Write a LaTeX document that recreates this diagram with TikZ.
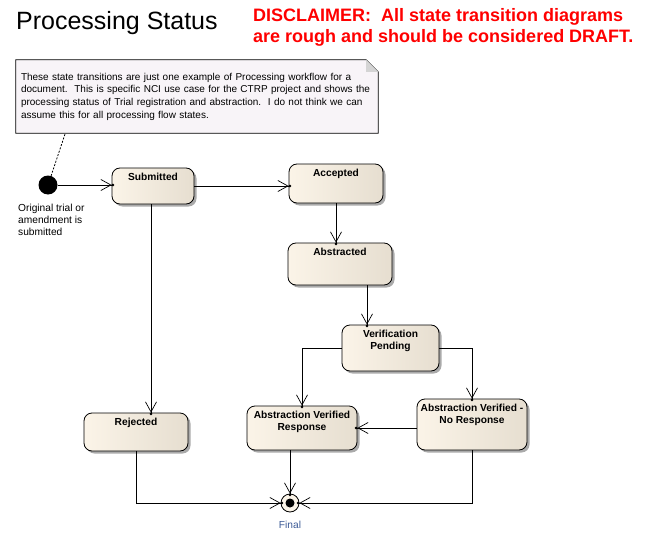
\documentclass[tikz,border=0pt]{standalone}
\usepackage{fontspec}
\setmainfont{Liberation Sans}
\usetikzlibrary{arrows.meta,shadows,backgrounds}

\definecolor{statel}{RGB}{251,244,232}
\definecolor{stater}{RGB}{230,222,208}
\definecolor{shadowgray}{RGB}{170,170,170}
\definecolor{notefill}{RGB}{248,244,248}
\definecolor{foldgray}{RGB}{212,212,212}
\definecolor{finalblue}{RGB}{60,90,150}
\definecolor{draftred}{RGB}{255,0,0}

\begin{document}
\begin{tikzpicture}[x=1pt, y=-1pt]
        \tikzstyle{statebox}=[draw, line width=0.8pt, rounded corners=8pt, left color=statel, right color=stater,
                              drop shadow={shadow xshift=2.5pt, shadow yshift=-2.5pt, fill=shadowgray, opacity=1}]
        \tikzstyle{statetext}=[font=\bfseries\fontsize{10.2}{12.5}\selectfont, align=center, anchor=north, inner sep=0pt, yshift=-5pt]
        \tikzstyle{smalltext}=[font=\fontsize{10.2}{12}\selectfont, align=left, inner sep=0pt]
        \tikzstyle{trans}=[line width=0.8pt, -{Straight Barb[length=10pt,width=11pt,line width=0.7pt] Circle[length=2.5pt,sep=-2.5pt]}]

        \useasboundingbox (0,0) rectangle (665,546);

        % headings
        \node (title) [anchor=base west, inner sep=0pt, font=\fontsize{25}{29}\selectfont] at (16,29.3) {Processing Status};
        \node (disclaimer) [anchor=base west, inner sep=0pt, align=left, text=draftred, font=\bfseries\fontsize{18}{21}\selectfont] at (253,42.7)
              {DISCLAIMER:\ \ All state transition diagrams\\are rough and should be considered DRAFT.};

        % note
        \node (note) [minimum width=362pt, minimum height=75pt, text width=352pt, inner xsep=5pt, align=left,
                      font=\fontsize{10}{12.7}\selectfont] at (197,96.5)
              {These state transitions are just one example of Processing workflow for a\\
               document.\ \ This is specific NCI use case for the CTRP project and shows the\\
               processing status of Trial registration and abstraction.\ \ I do not think we can\\
               assume this for all processing flow states.};
        \begin{pgfonlayer}{background}
            \draw[fill=notefill, line width=0.8pt] ([yshift=1pt]note.south west) -- ([yshift=-1pt]note.north west) -- ([xshift=-12pt,yshift=-1pt]note.north east)
                  -- ([yshift=-13pt]note.north east) -- ([yshift=1pt]note.south east) -- cycle;
            \fill[foldgray] ([xshift=-12pt,yshift=-1pt]note.north east) -- ([xshift=-12pt,yshift=-13pt]note.north east) -- ([yshift=-13pt]note.north east) -- cycle;
        \end{pgfonlayer}

        % states
        \node (initial) [circle, fill=black, minimum size=19pt, inner sep=0pt] at (48,185) {};
        \node (initlabel) [smalltext, anchor=north west] at (18,204) {Original trial or\\amendment is\\submitted};
        \node (submitted) [statebox, minimum width=82pt, minimum height=36pt, label={[statetext]north:Submitted}] at (153,186) {};
        \node (accepted) [statebox, minimum width=94pt, minimum height=39pt, label={[statetext]north:Accepted}] at (336,183.5) {};
        \node (abstracted) [statebox, minimum width=104pt, minimum height=42pt, label={[statetext]north:Abstracted}] at (340,264) {};
        \node (pending) [statebox, minimum width=97pt, minimum height=46pt, label={[statetext]north:Verification\\Pending}] at (390.5,348) {};
        \node (avresp) [statebox, minimum width=110pt, minimum height=44pt, label={[statetext]north:Abstraction Verified\\Response}] at (302,428) {};
        \node (avnoresp) [statebox, minimum width=110pt, minimum height=51pt, label={[statetext]north:Abstraction Verified -\\No Response}] at (472,424.5) {};
        \node (rejected) [statebox, minimum width=104pt, minimum height=38pt, label={[statetext]north:Rejected}] at (136,432) {};
        \node (final) [circle, draw, line width=0.8pt, fill=statel, minimum size=18pt, inner sep=0pt,
                       path picture={\fill[black] (path picture bounding box.center) circle (4.5pt);},
                       label={[text=finalblue, font=\fontsize{10.2}{12}\selectfont, label distance=5pt]below:Final}] at (290,503) {};

        % transitions
        \draw[dash pattern=on 2pt off 1.5pt, line width=0.8pt] ([xshift=-132pt]note.south) -- (initial);
        \draw[trans] (initial) -- (initial -| submitted.west);
        \draw[trans] (submitted) -- (submitted -| accepted.west);
        \draw[trans] (accepted) -- (accepted |- abstracted.north);
        \draw[trans] ([xshift=27pt]abstracted.south) -- ([xshift=27pt]abstracted.south |- pending.north);
        \draw[trans] (pending.west) -| (avresp.north);
        \draw[trans] (pending.east) -| (avnoresp.north);
        \draw[trans] (avnoresp.west |- avresp) -- (avresp.east);
        \draw[trans] (avresp.south -| final) -- (final.north);
        \draw[trans] (avnoresp.south) |- (final.east);
        \draw[trans] (rejected.south) |- (final.west);
        \draw[trans] ([xshift=-2pt]submitted.south) -- ([xshift=-2pt]submitted.south |- rejected.north);
    \end{tikzpicture}
\end{document}
